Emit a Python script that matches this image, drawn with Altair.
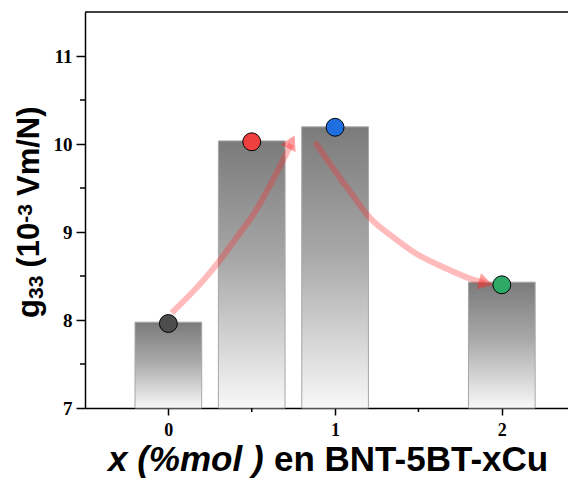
import altair as alt
import pandas as pd

# ---------------- data ----------------
bar_x = [0, 0.5, 1, 2]
bar_g33 = [7.975, 10.035, 10.195, 8.43]
point_x = [0, 0.5, 1, 2]
point_g33 = [7.96, 10.025, 10.19, 8.40]
point_names = ["0", "0.5", "1", "2"]
x_ticks = [0, 1, 2]
y_ticks = [7, 8, 9, 10, 11]
x_minor = [0.5, 1.5]
y_minor = [7.5, 8.5, 9.5, 10.5]
# curved arrows (data units)
arrow1_x = [0.02, 0.21, 0.31, 0.41, 0.51, 0.61, 0.71, 0.737]
arrow1_y = [8.08, 8.45, 8.68, 8.94, 9.20, 9.53, 9.90, 10.0]
arrow2_x = [0.88, 0.99, 1.09, 1.21, 1.35, 1.49, 1.65, 1.81, 1.90]
arrow2_y = [10.02, 9.72, 9.46, 9.16, 8.94, 8.75, 8.60, 8.47, 8.42]
head_x = [0.737, 1.903]
head_y = [10.02, 8.42]
head_angle = [26, 105]
x_title_italic = "x (%mol )"
x_title_rest = "en BNT-5BT-xCu"
# y title pieces: normal / subscript / normal / superscript / normal
y_title_parts = ["g", "33", "(10", "-3", "Vm/N)"]
y_title_kind = ["main", "sub", "main", "sup", "main"]

# ---------------- styles / layout ----------------
point_colors = ["#4d4d4d", "#ef4040", "#1f6fe0", "#2eaa66"]
W, H = 483, 396
X_DOMAIN = [-0.5, 2.397]
Y_DOMAIN = [7, 11.5]
# placement of the rotated y-title pieces (pixels, plot coords)
ytitle_font = {"main": 31, "sub": 21, "sup": 21}
ytitle_base = {"main": -46.5, "sub": -42, "sup": -53}
ytitle_start = [306, 287, 255.6, 210.8, 184]

bars_df = pd.DataFrame({"x": bar_x, "g": bar_g33})
pts_df = pd.DataFrame({"x": point_x, "g": point_g33, "name": point_names})
arrows_df = pd.DataFrame({
    "x": arrow1_x + arrow2_x,
    "g": arrow1_y + arrow2_y,
    "arrow": ["a1"] * len(arrow1_x) + ["a2"] * len(arrow2_x),
    "i": list(range(len(arrow1_x))) + list(range(len(arrow2_x))),
})
heads_df = pd.DataFrame({"x": head_x, "g": head_y, "angle": head_angle})
yminor_df = pd.DataFrame({"g": y_minor})
xminor_df = pd.DataFrame({"x": x_minor})
title_df = pd.DataFrame({"t": [x_title_italic]})
title2_df = pd.DataFrame({"t": [x_title_rest]})

xaxis = alt.Axis(values=x_ticks, format="d", tickSize=7, labelPadding=6,
                 labelFontSize=18, title=None, grid=False)
yaxis = alt.Axis(values=y_ticks, format="d", tickSize=9, labelPadding=4,
                 labelFontSize=19, title=None, grid=False)
xscale = alt.Scale(domain=X_DOMAIN, nice=False, zero=False)
yscale = alt.Scale(domain=Y_DOMAIN, nice=False, zero=False)


def X(field="x"):
    return alt.X(f"{field}:Q", scale=xscale, axis=xaxis)


def Y(field="g"):
    return alt.Y(f"{field}:Q", scale=yscale, axis=yaxis)


grad = alt.Gradient(
    gradient="linear",
    stops=[alt.GradientStop(color="#7b7b7b", offset=0),
           alt.GradientStop(color="#a8a8a8", offset=0.45),
           alt.GradientStop(color="#f8f8f8", offset=1)],
    x1=0, x2=0, y1=0, y2=1,
)

bars = alt.Chart(bars_df).transform_calculate(
    x0="datum.x - 0.2", x1="datum.x + 0.2"
).mark_bar(color=grad, stroke="#a6a6a6", strokeWidth=1).encode(
    x=X("x0"), x2="x1:Q", y=Y("g"), y2=alt.datum(7)
)

arrows = alt.Chart(arrows_df).mark_line(
    color="#ff2a2a", opacity=0.32, strokeWidth=6, interpolate="monotone"
).encode(x=X(), y=Y(), detail="arrow:N", order="i:Q")

heads = alt.Chart(heads_df).mark_point(
    shape="triangle-up", filled=True, size=220, color="#ff2a2a",
    opacity=0.45, stroke="#ff2a2a", strokeWidth=1
).encode(x=X(), y=Y(), angle=alt.Angle("angle:Q", scale=None))

points = alt.Chart(pts_df).mark_circle(
    size=320, stroke="black", strokeWidth=1, opacity=1
).encode(
    x=X(), y=Y(),
    color=alt.Color("name:N", scale=alt.Scale(domain=point_names, range=point_colors),
                    legend=None),
)

yminor = alt.Chart(yminor_df).mark_rule(color="black", strokeWidth=1.5).encode(
    y=Y(), x=alt.value(-5), x2=alt.value(0)
)
xminor = alt.Chart(xminor_df).mark_rule(color="black", strokeWidth=1.5).encode(
    x=X(), y=alt.value(H), y2=alt.value(H + 4)
)
top_rule = alt.Chart(title_df).mark_rule(color="black", strokeWidth=1.5).encode(
    y=alt.value(0), x=alt.value(0), x2=alt.value(W)
)

t1 = alt.Chart(title_df).mark_text(
    font="Liberation Sans", fontWeight="bold", fontStyle="italic", fontSize=35,
    align="left", baseline="alphabetic", color="black"
).encode(text="t:N", x=alt.value(23), y=alt.value(459))
t2 = alt.Chart(title2_df).mark_text(
    font="Liberation Sans", fontWeight="bold", fontSize=35,
    align="left", baseline="alphabetic", color="black"
).encode(text="t:N", x=alt.value(189), y=alt.value(459))

ytitle_layers = []
for part, kind, start in zip(y_title_parts, y_title_kind, ytitle_start):
    ytitle_layers.append(
        alt.Chart(pd.DataFrame({"t": [part]})).mark_text(
            font="Liberation Sans", fontWeight="bold", fontSize=ytitle_font[kind],
            angle=270, align="left", baseline="alphabetic", color="black"
        ).encode(text="t:N", x=alt.value(ytitle_base[kind]), y=alt.value(start))
    )

chart = alt.layer(bars, arrows, heads, points, yminor, xminor, top_rule, t1, t2,
                  *ytitle_layers).properties(
    width=W, height=H,
    autosize=alt.AutoSizeParams(type="none"),
    padding={"left": 77, "top": 4, "right": 0, "bottom": 74},
).configure_view(stroke=None).configure_axis(
    domainColor="black", domainWidth=1.5, tickColor="black", tickWidth=1.5,
    labelFont="Liberation Serif", labelFontWeight="bold",
    labelColor="black",
)

chart.save("out.html", embed_options={"renderer": "svg", "actions": False})
